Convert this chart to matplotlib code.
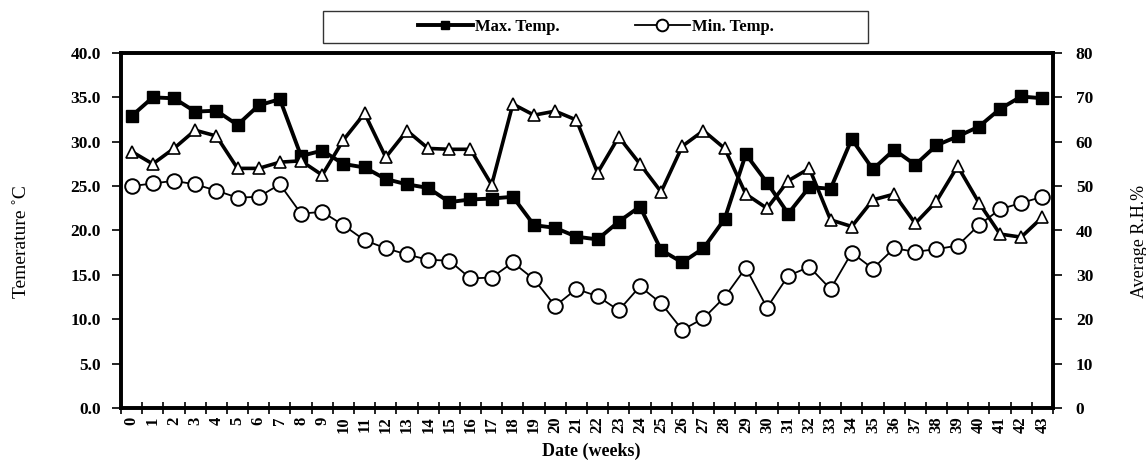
import numpy as np
import matplotlib.pyplot as plt
from matplotlib.patches import Rectangle

plt.rcParams['font.family'] = ['Liberation Serif', 'DejaVu Serif']

# weekly readings
weeks = list(range(44))
max_temp = [32.9, 35.0, 34.9, 33.4, 33.5, 31.9, 34.1, 34.8, 28.4, 29.0,
            27.5, 27.1, 25.8, 25.2, 24.8, 23.2, 23.5, 23.6, 23.8, 20.6,
            20.3, 19.3, 19.0, 21.0, 22.7, 17.8, 16.4, 18.0, 21.3, 28.6,
            25.4, 21.9, 24.9, 24.7, 30.3, 26.9, 29.1, 27.4, 29.6, 30.6,
            31.7, 33.7, 35.1, 34.9]
min_temp = [25.0, 25.3, 25.6, 25.2, 24.5, 23.7, 23.8, 25.2, 21.9, 22.1,
            20.6, 18.9, 18.0, 17.3, 16.7, 16.6, 14.6, 14.7, 16.4, 14.5,
            11.5, 13.4, 12.6, 11.0, 13.7, 11.8, 8.8, 10.1, 12.5, 15.8,
            11.3, 14.9, 15.9, 13.4, 17.5, 15.7, 18.0, 17.6, 17.9, 18.3,
            20.6, 22.4, 23.1, 23.8]
rel_hum = [57.8, 55.0, 58.5, 62.6, 61.3, 54.0, 54.0, 55.4, 55.7, 52.5,
           60.4, 66.4, 56.5, 62.5, 58.5, 58.3, 58.3, 50.3, 68.5, 66.0,
           66.9, 64.9, 53.0, 61.1, 55.0, 48.7, 59.0, 62.5, 58.5, 48.2,
           45.0, 51.2, 54.0, 42.4, 40.9, 46.9, 48.2, 41.6, 46.6, 54.5,
           46.3, 39.2, 38.5, 43.0]

temp_ticks = np.arange(0, 41, 5)
rh_ticks = np.arange(0, 81, 10)

fig = plt.figure(figsize=(11.46, 4.61), dpi=100)
ax = fig.add_axes([0.1056, 0.115, 0.8132, 0.770])
ax2 = ax.twinx()

ax.plot(weeks, max_temp, color='black', lw=2.8, marker='s', ms=8,
        mfc='black', mec='black', label='Max. Temp.', zorder=3)
ax.plot(weeks, min_temp, color='black', lw=1.3, marker='o', ms=10.5,
        mfc='white', mec='black', mew=1.4, label='Min. Temp.', zorder=3)
ax2.plot(weeks, rel_hum, color='black', lw=2.6, marker='^', ms=8,
         mfc='white', mec='black', mew=1.2, zorder=3)

# ---- axes and ticks ----
ax.set_xlim(-0.5, 43.5)
ax.set_ylim(0, 40)
ax2.set_ylim(0, 80)

ax.set_xticks(weeks)
ax.set_xticklabels([str(w) for w in weeks], rotation=90, fontsize=12,
                   fontweight='bold')
ax.set_xticks(np.arange(-0.5, 44, 1), minor=True)
ax.tick_params(axis='x', which='major', length=0, pad=6)
ax.tick_params(axis='x', which='minor', direction='inout', length=8, width=1.2)

ax.set_yticks(temp_ticks)
ax.set_yticklabels(['%.1f' % t for t in temp_ticks], fontsize=12.5,
                   fontweight='bold')
ax.tick_params(axis='y', direction='out', length=6.5, width=1.2, pad=8)

ax2.set_yticks(rh_ticks)
ax2.set_yticklabels([str(r) for r in rh_ticks], fontsize=12.5,
                    fontweight='bold')
ax2.tick_params(axis='y', direction='out', length=6.5, width=1.2, pad=10)

for a in (ax, ax2):
    for s in a.spines.values():
        s.set_linewidth(2.6)

ax.set_ylabel('Temerature \u02daC', fontsize=14)
ax.yaxis.set_label_coords(-0.098, 0.47)
ax2.set_ylabel('Average R.H.%', fontsize=13, rotation=90)
ax2.yaxis.set_label_coords(1.084, 0.47)
ax.set_xlabel('Date (weeks)', fontsize=13, fontweight='bold')
ax.xaxis.set_label_coords(0.505, -0.097)

# legend sits in its own box above the plot
fig.patches.append(Rectangle((0.282, 0.907), 0.475, 0.069,
                             transform=fig.transFigure, fill=False,
                             edgecolor='#333333', lw=1.0))
fig.legend(loc='center', bbox_to_anchor=(0.52, 0.9414), ncol=2,
           frameon=False, prop={'weight': 'bold', 'size': 12},
           handlelength=3.3, handletextpad=0.15, columnspacing=4.5,
           markerscale=0.8)

plt.savefig('out.png', dpi=100)
